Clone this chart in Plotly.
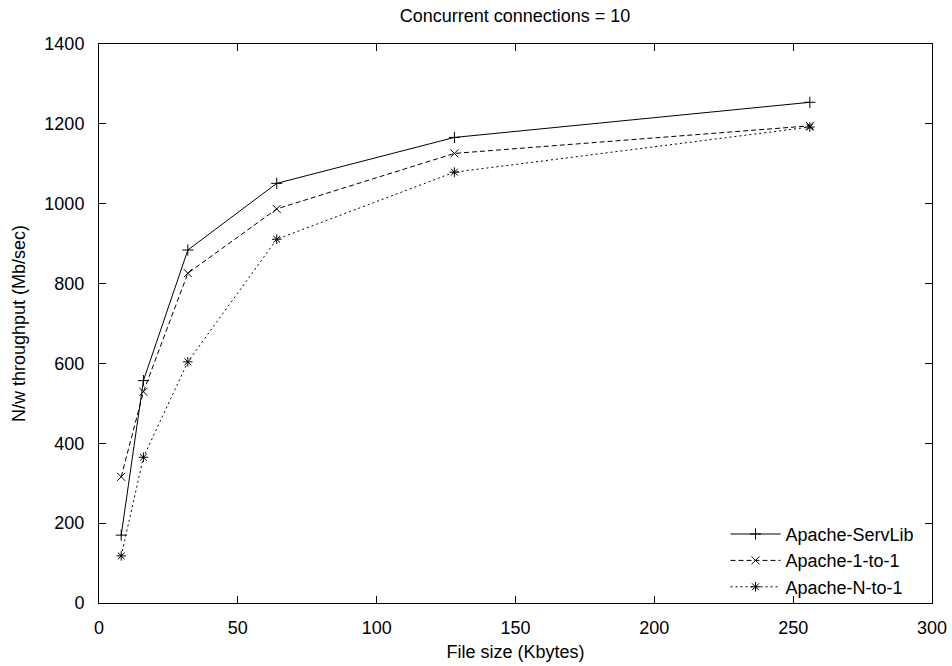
import plotly.graph_objects as go

file_size = [8, 16, 32, 64, 128, 256]
servlib = [170, 557, 884, 1051, 1166, 1254]
one_to_one = [316, 529, 826, 987, 1126, 1195]
n_to_one = [118, 365, 604, 911, 1079, 1192]

x_ticks = [0, 50, 100, 150, 200, 250, 300]
y_ticks = [0, 200, 400, 600, 800, 1000, 1200, 1400]

FONT = "Liberation Sans, Arial, Helvetica, sans-serif"
FS = 18

fig = go.Figure()
series = [
    ("Apache-ServLib", servlib, "solid", "cross-thin"),
    ("Apache-1-to-1", one_to_one, "5px,3px", "x-thin"),
    ("Apache-N-to-1", n_to_one, "2px,3px", "asterisk"),
]
for name, ys, dash, sym in series:
    fig.add_trace(go.Scatter(
        x=file_size, y=ys, name=name, mode="lines+markers",
        line=dict(color="black", width=1, dash=dash),
        marker=dict(symbol=sym, size=8, color="black",
                    line=dict(color="black", width=1)),
    ))

axis_common = dict(
    showgrid=False, zeroline=False, showline=True, linecolor="black",
    linewidth=1, mirror="ticks", ticks="inside", ticklen=7, tickwidth=1,
    tickcolor="black", tickfont=dict(family=FONT, size=FS, color="black"),
    automargin=False,
)
fig.update_xaxes(range=[0, 300], tickvals=x_ticks, ticklabelstandoff=8,
                 title=dict(text="File size (Kbytes)", standoff=8,
                            font=dict(family=FONT, size=FS, color="black")),
                 **axis_common)
fig.update_yaxes(range=[0, 1400], tickvals=y_ticks, ticklabelstandoff=10,
                 title=dict(text="N/w throughput (Mb/sec)", standoff=14,
                            font=dict(family=FONT, size=FS, color="black")),
                 **axis_common)

fig.update_layout(
    width=952, height=666,
    margin=dict(l=99, r=20, t=44, b=63),
    paper_bgcolor="white", plot_bgcolor="white",
    font=dict(family=FONT, size=FS, color="black"),
    title=dict(text="Concurrent connections = 10", x=515 / 952, xanchor="center",
               y=1 - 16 / 666, yanchor="middle", yref="container",
               font=dict(family=FONT, size=FS, color="black")),
    legend=dict(x=0.985, y=-0.005, xanchor="right", yanchor="bottom",
                bgcolor="rgba(0,0,0,0)", borderwidth=0,
                font=dict(family=FONT, size=FS, color="black"),
                tracegroupgap=0, itemwidth=50),
    showlegend=True,
)

fig.write_html("out.html", config={"displayModeBar": False},
               post_script="document.body.style.margin='0px';")
